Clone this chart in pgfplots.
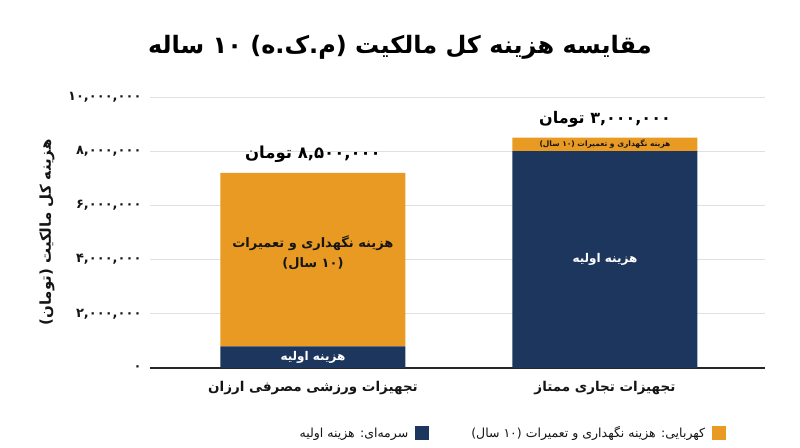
\documentclass[border=0pt]{standalone}
\usepackage{pgfplots}
\pgfplotsset{compat=1.18}
\usepackage{fontspec}
\setmainfont{DejaVu Sans}
\newfontfamily\fa[Script=Arabic]{DejaVu Sans}
\TeXXeTstate=1
\definecolor{navy}{HTML}{1C365D}
\definecolor{amber}{HTML}{E89A22}
\definecolor{txt}{HTML}{151515}
\begin{document}
\begin{tikzpicture}
\useasboundingbox (-150pt,-79pt) rectangle (650pt,368pt);
\begin{axis}[
  at={(0pt,0pt)}, anchor=south west,
  scale only axis, width=615pt, height=271pt,
  ybar stacked, bar width=185pt,
  xmin=-0.558, xmax=1.548, ymin=0, ymax=10000000,
  clip=false,
  axis x line=bottom, axis y line=left,
  x axis line style={-, draw=black!85, line width=1.3pt},
  y axis line style={draw=none},
  major tick length=0pt,
  ymajorgrids, grid style={draw=black!12, line width=0.9pt},
  xtick={0,1},
  xticklabels={{\beginR تجهیزات ورزشی مصرفی ارزان\endR},{\beginR تجهیزات تجاری ممتاز\endR}},
  xticklabel style={font=\fa\bfseries\fontsize{13.5}{16}\selectfont, text=txt, yshift=-10pt},
  ytick={0,2000000,4000000,6000000,8000000,10000000},
  yticklabels={۰,{۲,۰۰۰,۰۰۰},{۴,۰۰۰,۰۰۰},{۶,۰۰۰,۰۰۰},{۸,۰۰۰,۰۰۰},{۱۰,۰۰۰,۰۰۰}},
  yticklabel style={font=\fa\bfseries\fontsize{13}{15}\selectfont, text=txt, xshift=-5pt},
  scaled y ticks=false,
  ylabel={\beginR هزینه کل مالکیت (تومان)\endR},
  ylabel style={at={(axis description cs:-0.1675,0.5)}, anchor=center, font=\fa\bfseries\fontsize{15}{18}\selectfont, text=txt},
  title={\beginR مقایسه هزینه کل مالکیت (م.ک.ه) ۱۰ ساله\endR},
  title style={at={(axis description cs:0.4065,1.162)}, anchor=center, font=\fa\bfseries\fontsize{24}{28}\selectfont, text=black},
  legend columns=2,
  legend plot pos=right,
  legend style={at={(axis description cs:0.942,-0.24)}, anchor=east, draw=none, fill=none,
    font=\fa\fontsize{12.5}{15}\selectfont, text=txt,
    /tikz/every even column/.append style={column sep=40pt}},
  legend image code/.code={\path (0pt,0pt); \fill[#1] (5pt,-7pt) rectangle (19pt,7pt);},
  after end axis/.code={
    \node[font=\fa\bfseries\fontsize{12}{14}\selectfont, text=white] at (axis cs:0,400000) {\beginR هزینه اولیه\endR};
    \node[font=\fa\bfseries\fontsize{12}{14}\selectfont, text=white] at (axis cs:1,4000000) {\beginR هزینه اولیه\endR};
    \node[font=\fa\bfseries\fontsize{13}{20}\selectfont, text=txt, align=center] at (axis cs:0,4260000) {\beginR هزینه نگهداری و تعمیرات\endR\\\beginR (۱۰ سال)\endR};
    \node[font=\fa\bfseries\fontsize{7.5}{9}\selectfont, text=txt] at (axis cs:1,8250000) {\beginR هزینه نگهداری و تعمیرات (۱۰ سال)\endR};
    \node[font=\fa\bfseries\fontsize{16.5}{20}\selectfont, text=black] at (axis cs:0,7870000) {\beginR ۸,۵۰۰,۰۰۰ تومان\endR};
    \node[font=\fa\bfseries\fontsize{16}{20}\selectfont, text=black] at (axis cs:1,9190000) {\beginR ۳,۰۰۰,۰۰۰ تومان\endR};
  },
]
\addplot[fill=navy, draw=none] coordinates {(0,800000) (1,8000000)};
\addlegendentry{\beginR سرمه‌ای: هزینه اولیه\endR}
\addplot[fill=amber, draw=none] coordinates {(0,6400000) (1,500000)};
\addlegendentry{\beginR کهربایی: هزینه نگهداری و تعمیرات (۱۰ سال)\endR}
\end{axis}
\end{tikzpicture}
\end{document}
